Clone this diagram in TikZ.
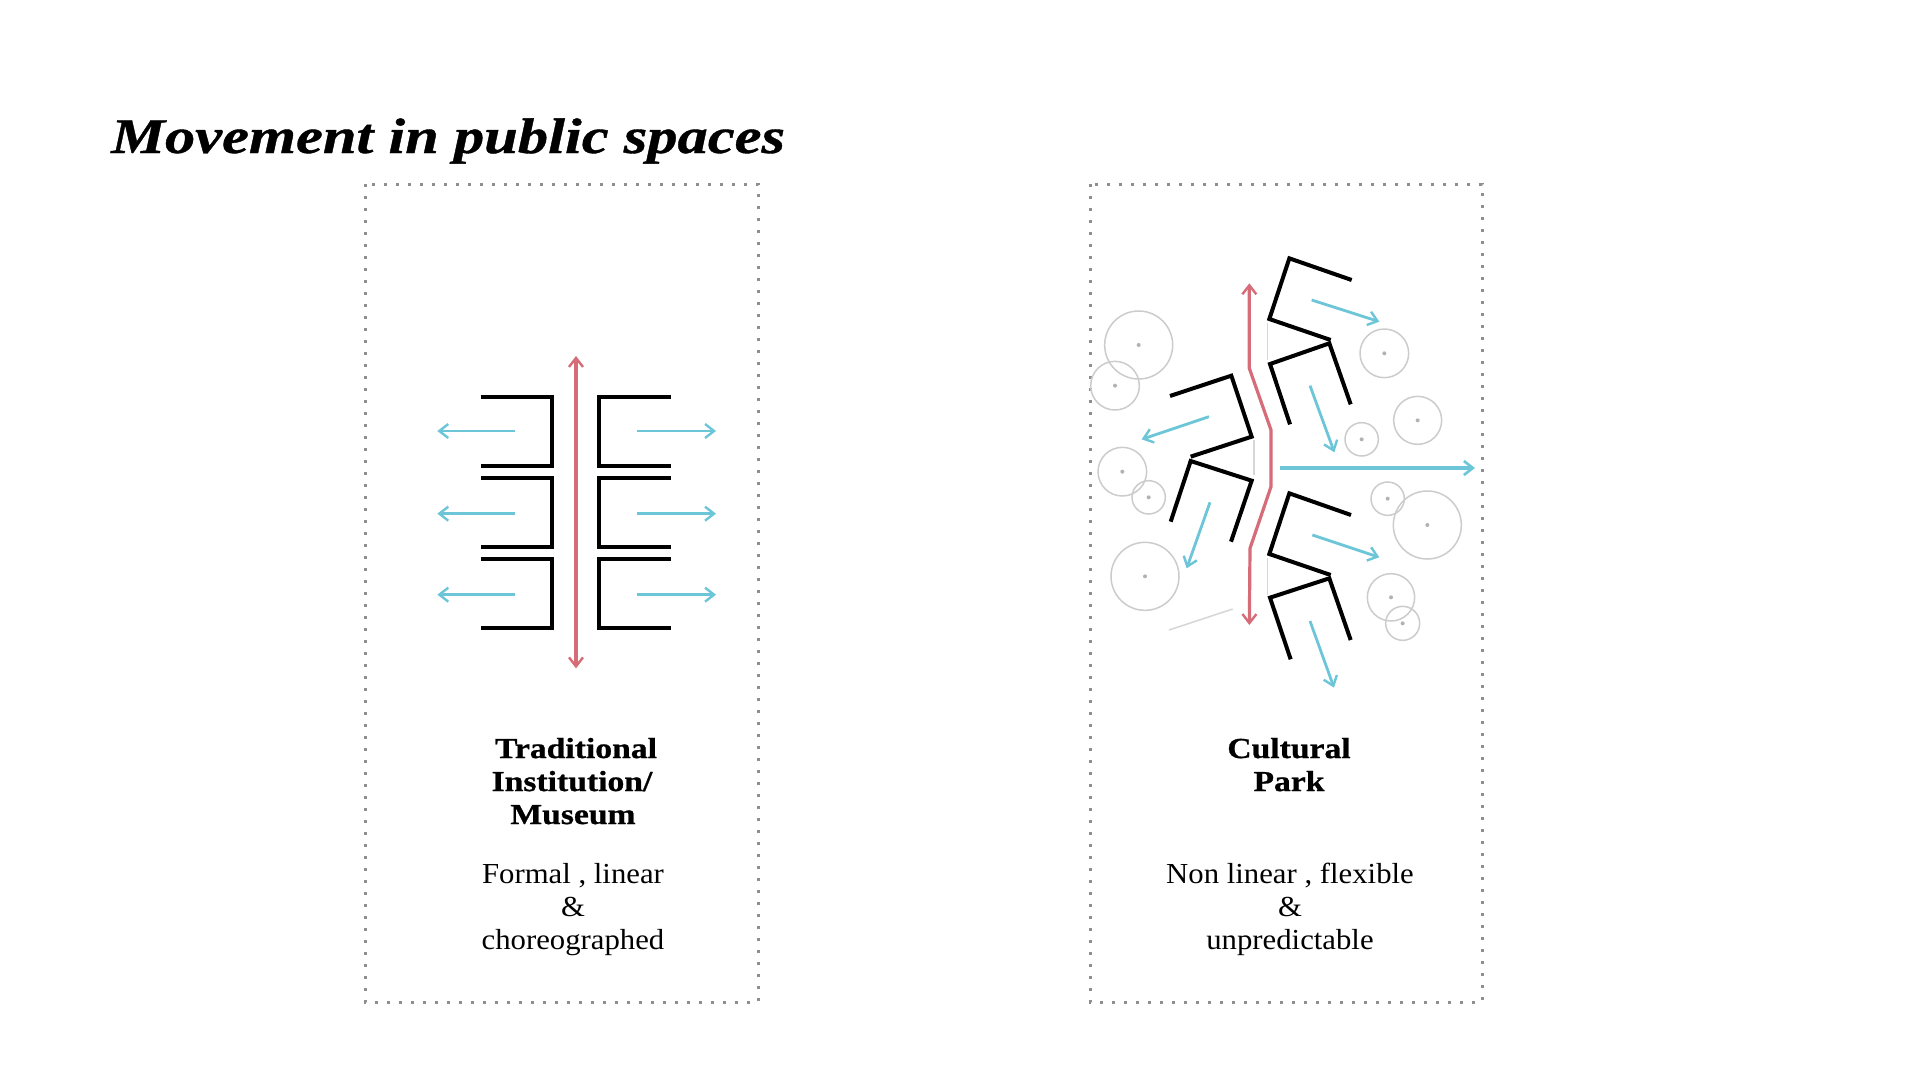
\documentclass[tikz,border=0pt]{standalone}
\usepackage{fontspec}
\setmainfont{Liberation Serif}
\newfontfamily\titleface[FakeStretch=1.21,FakeBold=0.8]{Liberation Serif Bold Italic}
\newfontfamily\headface[FakeStretch=1.16,FakeBold=0.8]{Liberation Serif Bold}
\newfontfamily\bodyface[FakeStretch=1.06]{Liberation Serif}
\usetikzlibrary{arrows.meta}
\definecolor{frameg}{HTML}{8E8E8E}
\definecolor{bluearr}{HTML}{6CC6D8}
\definecolor{redarr}{HTML}{D66C77}
\definecolor{circg}{HTML}{CCCCCC}
\definecolor{wallg}{HTML}{D6D6D6}
\tikzset{
  frame/.style={frameg,line width=3pt,dash pattern=on 3pt off 9pt},
  wall/.style={black,line width=4pt,line cap=butt,line join=miter},
  thinwall/.style={wallg,line width=1.5pt},
  bluea/.style={bluearr,line width=2.8pt,-{Straight Barb[length=9pt,width=14pt,line width=2.4pt]}},
  blueb/.style={bluearr,line width=3.6pt,-{Straight Barb[length=9pt,width=14pt,line width=2.6pt]}},
  reda/.style={redarr,line width=3.2pt,{Straight Barb[length=9pt,width=14pt,line width=2.4pt]}-{Straight Barb[length=9pt,width=14pt,line width=2.4pt]}},
  tree/.style={circg,line width=1.5pt},
  treedot/.style={fill=black!30,draw=none},
  headtxt/.style={anchor=base,font=\headface\fontsize{29}{33}\selectfont,inner sep=0pt},
  bodytxt/.style={anchor=base,font=\bodyface\fontsize{29}{33}\selectfont,inner sep=0pt},
}
\newcommand{\treeat}[3]{\draw[tree] (#1,#2) circle (#3); \fill[treedot] (#1,#2) circle (6);}
\begin{document}
\begin{tikzpicture}[x=1pt,y=-1pt]
\useasboundingbox (0,0) rectangle (1920,1080);
\fill[white] (0,0) rectangle (1920,1080);
% title
\node[anchor=base west,inner sep=0pt,font=\titleface\fontsize{50}{56}\selectfont] (title) at (111,153) {Movement in public spaces};
% frames
\draw[frame] (365,184) rectangle (758,1002);
\draw[frame] (1090,184) rectangle (1482,1002);
% left diagram
\begin{scope}[shift={(360,330)},x=0.33333pt,y=-0.33333pt]
\foreach \t/\b in {200/408,443/651,686/893}{
  \draw[wall] (362,\t) -- (577,\t) -- (577,\b) -- (362,\b);
  \draw[wall] (933,\t) -- (718,\t) -- (718,\b) -- (933,\b);
}
\foreach \y in {303,551,794}{
  \draw[bluea] (465,\y) -- (232,\y);
  \draw[bluea] (832,\y) -- (1068,\y);
}
\draw[reda] (648,78) -- (648,1015);
\end{scope}
% right diagram
\begin{scope}[shift={(1090,240)},x=0.33333pt,y=-0.33333pt]
\treeat{146}{315}{102}
\treeat{75}{437}{73}
\treeat{883}{340}{73}
\treeat{983}{541}{72}
\treeat{815}{598}{50}
\treeat{97}{695}{73}
\treeat{176}{772}{50}
\treeat{165}{1009}{102}
\treeat{893}{776}{50}
\treeat{1012}{855}{102}
\treeat{903}{1072}{71}
\treeat{938}{1150}{51}
\draw[thinwall] (533,250) -- (533,360);
\draw[thinwall] (492,600) -- (492,705);
\draw[thinwall] (533,955) -- (533,1065);
\draw[thinwall] (237,1170) -- (428,1107);
\draw[wall] (785,120) -- (598,55) -- (538,237) -- (722,300);
\draw[wall] (600,553) -- (540,372) -- (718,310) -- (782,493);
\draw[wall] (240,468) -- (424,407) -- (485,590) -- (302,650);
\draw[wall] (242,845) -- (302,663) -- (485,722) -- (423,905);
\draw[wall] (783,825) -- (598,760) -- (538,942) -- (722,1005);
\draw[wall] (602,1258) -- (540,1073) -- (718,1015) -- (782,1200);
\draw[reda] (478,130) -- (478,385) -- (543,570) -- (543,740) -- (480,925) -- (478,1155);
\draw[bluea] (665,180) -- (868,245);
\draw[bluea] (660,437) -- (733,637);
\draw[bluea] (357,530) -- (155,598);
\draw[blueb] (570,684) -- (1155,684);
\draw[bluea] (360,787) -- (290,985);
\draw[bluea] (667,885) -- (868,952);
\draw[bluea] (660,1143) -- (732,1343);
\end{scope}
% left labels
\node[headtxt] (h1) at (576,758) {Traditional};
\node[headtxt] (h2) at (572,791) {Institution/};
\node[headtxt] (h3) at (573,824) {Museum};
\node[bodytxt] (b1) at (573,883) {Formal , linear};
\node[bodytxt] (b2) at (573,916) {\&};
\node[bodytxt] (b3) at (573,949) {choreographed};
% right labels
\node[headtxt] (k1) at (1289,758) {Cultural};
\node[headtxt] (k2) at (1289,791) {Park};
\node[bodytxt] (m1) at (1290,883) {Non linear , flexible};
\node[bodytxt] (m2) at (1290,916) {\&};
\node[bodytxt] (m3) at (1290,949) {unpredictable};
\end{tikzpicture}
\end{document}
